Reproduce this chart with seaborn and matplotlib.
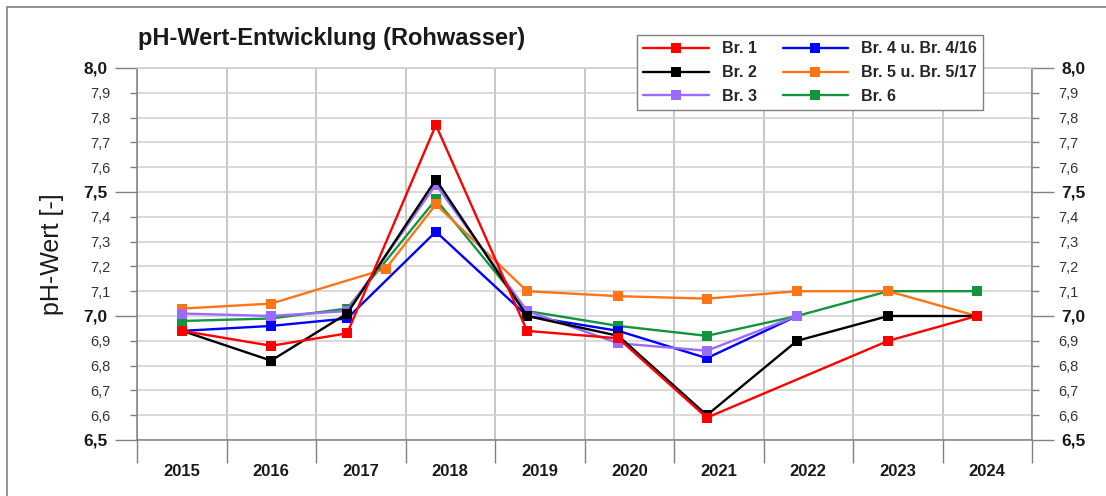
import numpy as np
import pandas as pd
import seaborn as sns
import matplotlib.pyplot as plt
from matplotlib.lines import Line2D
from matplotlib.patches import Rectangle
from matplotlib.ticker import MultipleLocator, FuncFormatter, NullFormatter

# ---- data ----
years = list(range(2015, 2025))
# sampling dates, estimated from where the points sit inside each year
dates = ["2015-07-05", "2016-07-01", "2017-05-08", "2018-05-05", "2019-05-12",
         "2020-05-18", "2021-05-15", "2022-05-18", "2023-05-25", "2024-05-20"]
dates_br5 = dates[:2] + ["2017-10-12"] + dates[3:]

series = ["Br. 1", "Br. 2", "Br. 3", "Br. 4 u. Br. 4/16", "Br. 5 u. Br. 5/17", "Br. 6"]
br1 = [6.94, 6.88, 6.93, 7.77, 6.94, 6.91, 6.59, np.nan, 6.90, 7.00]
br2 = [6.94, 6.82, 7.01, 7.55, 7.00, 6.92, 6.60, 6.90, 7.00, 7.00]
br3 = [7.01, 7.00, 7.02, 7.53, 7.02, 6.89, 6.86, 7.00, np.nan, np.nan]
br4 = [6.94, 6.96, 6.99, 7.34, 7.00, 6.94, 6.83, 7.00, np.nan, np.nan]
br5 = [7.03, 7.05, 7.19, 7.45, 7.10, 7.08, 7.07, 7.10, 7.10, 7.00]
br6 = [6.98, 6.99, 7.03, 7.47, 7.02, 6.96, 6.92, 7.00, 7.10, 7.10]
colors = ["#FF0000", "#000000", "#9B6BFF", "#0000FF", "#FF7417", "#12953F"]

# long table for seaborn
rows = []
for name, vals, d in zip(series, [br1, br2, br3, br4, br5, br6],
                         [dates, dates, dates, dates, dates_br5, dates]):
    for ds, v in zip(d, vals):
        t = pd.Timestamp(ds)
        rows.append({"jahr": t.year + (t.dayofyear - 1) / 365.25, "ph": v, "brunnen": name})
df = pd.DataFrame(rows).dropna()

sns.set_theme(style="ticks")
plt.rcParams["font.family"] = ["Liberation Sans", "DejaVu Sans"]

fig = plt.figure(figsize=(11.06, 4.96), dpi=100)
ax = fig.add_axes([137 / 1106, 1 - 440 / 496, 895 / 1106, 372 / 496])

sns.lineplot(data=df, x="jahr", y="ph", hue="brunnen", hue_order=series, palette=colors,
             marker="s", markersize=6.5, markeredgewidth=0, linewidth=1.7,
             estimator=None, errorbar=None, legend=False, ax=ax)

# Br. 1 on top, Br. 6 at the bottom
data_lines = [l for l in ax.lines if len(l.get_xdata()) > 0]
for i, line in enumerate(data_lines):
    line.set_zorder(10 - i)

ax.set_xlim(2015, 2025)
ax.set_ylim(6.5, 8.0)
ax.set_xlabel("")
ax.set_ylabel("")

# x axis: ticks/grid on year boundaries, labels in the middle
ax.xaxis.set_major_locator(MultipleLocator(1))
ax.xaxis.set_major_formatter(NullFormatter())
ax.set_xticks([y + 0.5 for y in years], labels=[str(y) for y in years], minor=True,
              fontweight="bold", fontsize=12)
ax.tick_params(axis="x", which="major", length=16.5, width=1, color="#808080")
ax.tick_params(axis="x", which="minor", length=0, pad=17, labelcolor="#1a1a1a")

# y axis on both sides, comma decimals
comma = FuncFormatter(lambda v, p: f"{v:.1f}".replace(".", ","))
major_y = [6.5, 7.0, 7.5, 8.0]
ax.set_yticks(major_y, labels=[comma(v, None) for v in major_y], fontweight="bold", fontsize=12.5)
ax.yaxis.set_minor_locator(MultipleLocator(0.1))
ax.yaxis.set_minor_formatter(comma)
ax.tick_params(axis="y", which="major", left=True, right=True, labelleft=True, labelright=True,
               length=16, width=1, pad=5, color="#808080", labelcolor="#1a1a1a")
ax.tick_params(axis="y", which="minor", left=True, right=True, labelleft=True, labelright=True,
               length=5, width=1, pad=14, color="#808080", labelsize=10.5, labelcolor="#333333")
for t in ax.yaxis.get_major_ticks():
    t.label2.set_fontweight("bold")
    t.label2.set_fontsize(12.5)

ax.grid(axis="y", which="both", color="#cfcfcf", linewidth=1.1)
ax.grid(axis="x", which="major", color="#b8b8b8", linewidth=1.1)
ax.set_axisbelow(True)
for side in ["left", "right", "bottom"]:
    ax.spines[side].set_color("#808080")
    ax.spines[side].set_linewidth(1.1)
ax.spines["top"].set_color("#cfcfcf")

# legend
handles = [Line2D([], [], color=c, marker="s", markersize=6.5, markeredgewidth=0, linewidth=1.7)
           for c in colors]
leg = ax.legend(handles, series, ncol=2, loc="upper left", bbox_to_anchor=(0.5587, 1.0887),
                borderaxespad=0, frameon=True, fancybox=False, edgecolor="#808080",
                framealpha=1, prop={"weight": "bold", "size": 11.5}, handlelength=4.1,
                handletextpad=0.8, columnspacing=1.63, labelspacing=0.55, borderpad=0.4)
leg.get_frame().set_linewidth(1.0)
leg.set_zorder(20)

# title, y label, outer frame
fig.text(138 / 1106, 1 - 38 / 496, "pH-Wert-Entwicklung (Rohwasser)", fontsize=17,
         fontweight="bold", va="center", ha="left", color="#1a1a1a")
fig.text(52 / 1106, 1 - 254 / 496, "pH-Wert [-]", fontsize=18, rotation=90,
         va="center", ha="center", color="#1a1a1a")
fig.add_artist(Rectangle((7 / 1106, -0.1), 1.2, 1.1 - 7 / 496, transform=fig.transFigure,
                         fill=False, edgecolor="#808080", linewidth=1.2))

fig.savefig("out.png", dpi=100)
